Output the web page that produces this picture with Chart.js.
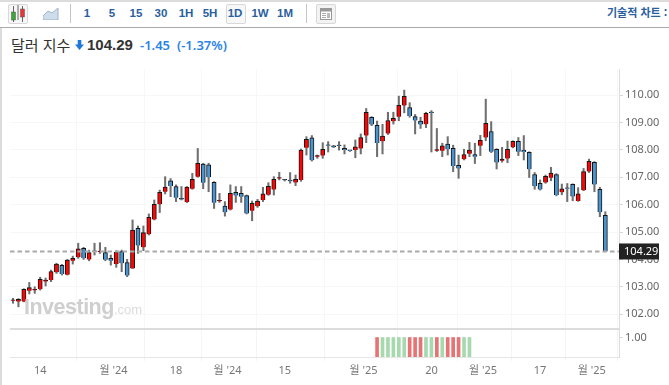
<!DOCTYPE html>
<html lang="ko">
<head>
<meta charset="utf-8">
<title>달러 지수</title>
<script src="https://cdn.jsdelivr.net/npm/chart.js@4"></script>
<style>
html,body{margin:0;padding:0;background:#fff;width:669px;height:385px;overflow:hidden;font-family:"Noto Sans","Noto Sans CJK KR",sans-serif}
#page{position:relative;width:669px;height:385px;overflow:hidden}
#page>*{position:absolute}
.tf{top:5px;height:17px;line-height:17px;width:24px;text-align:center;font-size:11.5px;font-weight:700;color:#2a5f9e;font-family:"Liberation Sans",sans-serif}
.box{top:4px;height:18px;border:1px solid #d8d8d8;border-radius:2px;background:#f7f7f7}
.sep{top:4px;height:19px;width:1px;background:#c4c4c4}
canvas{display:block}
</style>
</head>
<body>
<div id="page">
  <div style="left:0;top:0;width:669px;height:1.5px;background:#dcdcdc"></div>
  <div style="left:0;top:27px;width:669px;height:1px;background:#aaa"></div>
  <div style="left:0;top:28px;width:1.5px;height:357px;background:#dcdcdc"></div>
  <div class="box" style="left:8px;width:18px"></div>
  <svg style="left:10px;top:5px" width="16" height="18" viewBox="0 0 16 18">
    <path d="M3.5 1v16M8 0v15M12.5 1v16" stroke="#666" stroke-width="1"/>
    <rect x="1.5" y="7" width="4" height="8" fill="#3fa535" stroke="#555" stroke-width=".5"/>
    <rect x="10.5" y="4" width="4" height="8" fill="#e33" stroke="#555" stroke-width=".5"/>
  </svg>
  <svg style="left:43px;top:7px" width="16" height="13" viewBox="0 0 16 13">
    <path d="M0 9L5 4L9 6L15 1V13H0Z" fill="#cfdcec" stroke="#9db4d0" stroke-width="1"/>
  </svg>
  <div class="sep" style="left:70px"></div>
  <div class="box" style="left:226px;width:18px"></div>
  <div class="sep" style="left:306px"></div>
  <div class="box" style="left:316px;width:18px;background:#f3f3f3"></div>
  <svg style="left:320px;top:8px" width="12" height="12" viewBox="0 0 12 12">
    <rect x=".5" y=".5" width="11" height="11" fill="#fff" stroke="#999"/>
    <rect x="1" y="1" width="10" height="2.5" fill="#999"/>
    <path d="M2 5.5h4M2 7.5h4M2 9.5h4" stroke="#aaa"/>
    <rect x="7" y="5" width="3" height="5" fill="#bbb"/>
  </svg>
  <span class="tf" style="left:75px">1</span>
  <span class="tf" style="left:100px">5</span>
  <span class="tf" style="left:124px">15</span>
  <span class="tf" style="left:149px">30</span>
  <span class="tf" style="left:174px">1H</span>
  <span class="tf" style="left:198px">5H</span>
  <span class="tf" style="left:223px">1D</span>
  <span class="tf" style="left:248px">1W</span>
  <span class="tf" style="left:273px">1M</span>
  <span style="left:607px;top:4px;font-size:11px;line-height:17px;font-weight:700;color:#2a5f9e;white-space:nowrap;font-family:'Noto Sans CJK KR'">기술적 차트 :</span>
  <span style="left:11px;top:35px;font-size:15px;line-height:20px;color:#333;white-space:nowrap;font-family:'Noto Sans CJK KR'">달러 지수</span>
  <svg style="left:75px;top:40px" width="9" height="10" viewBox="0 0 10 11"><path d="M3 0h4v5h3L5 11L0 5h3z" fill="#1f78d8"/></svg>
  <span style="left:87px;top:35px;font-size:15px;line-height:20px;font-weight:700;color:#333;font-family:'Liberation Sans'">104.29</span>
  <span style="left:140px;top:36px;font-size:13px;line-height:19px;font-weight:600;color:#2a83e6;font-family:'Noto Sans'">-1.45</span>
  <span style="left:177px;top:36px;font-size:13px;line-height:19px;font-weight:600;color:#2a83e6;font-family:'Noto Sans'">(-1.37%)</span>

  <canvas id="main" width="669" height="260" style="left:0;top:69px;width:669px;height:260px"></canvas>
  <canvas id="vol" width="669" height="56" style="left:0;top:329px;width:669px;height:56px"></canvas>
  <div style="left:24px;top:295px;white-space:nowrap;color:#cfcfcf;pointer-events:none;font-family:'Liberation Sans'"><span style="font-size:21.5px;font-weight:700;letter-spacing:-.5px">Investing</span><span style="font-size:13px;color:#dcdcdc">.com</span></div>
</div>
<script>
const opens = [102.49,102.46,102.46,102.86,102.87,102.91,103.19,103.25,103.53,103.78,103.44,103.95,104.08,104.40,104.00,104.28,104.27,104.25,104.04,103.83,104.29,103.88,103.67,105.13,104.44,104.92,105.46,106.01,106.47,106.87,106.66,106.22,106.10,106.58,107.02,107.48,107.45,106.81,106.12,105.95,105.82,106.45,106.41,106.33,105.78,105.94,106.17,106.36,106.55,106.95,106.91,106.90,106.81,106.90,108.08,108.44,107.75,107.79,108.18,108.15,108.15,108.05,107.97,107.99,108.05,108.52,109.19,108.89,108.31,108.60,109.04,109.21,109.62,109.54,109.21,109.05,108.93,109.37,107.97,107.97,108.21,108.05,107.43,107.66,107.86,107.83,108.15,108.45,108.67,108.02,107.60,107.68,108.09,108.31,107.99,107.91,107.10,106.78,106.81,106.98,107.10,106.45,106.61,106.74,106.13,106.52,107.21,107.54,106.56,105.61];
const highs = [102.58,102.57,102.93,103.16,103.00,103.35,103.32,103.61,103.86,103.82,104.00,104.12,104.59,104.44,104.34,104.59,104.61,104.44,104.16,104.32,104.34,104.00,105.44,105.22,105.22,105.66,106.17,106.53,107.02,106.95,106.72,106.66,106.66,107.14,108.05,107.51,107.51,106.84,106.41,106.11,106.72,106.66,106.66,106.35,106.13,106.19,106.63,106.80,107.02,107.18,106.92,107.17,107.08,108.03,108.48,108.52,107.81,108.26,108.30,108.16,108.30,108.18,107.98,108.36,108.58,109.51,109.21,109.05,108.93,109.37,109.37,109.96,110.18,109.72,109.29,109.19,109.37,109.43,108.78,108.24,108.48,108.17,107.81,108.02,108.27,108.24,108.53,109.85,109.03,108.04,108.09,108.32,108.33,108.45,108.52,107.93,107.17,106.90,107.08,107.36,107.13,106.75,106.77,106.76,106.62,107.32,107.66,107.57,106.63,105.74];
const lows = [102.40,102.27,102.45,102.74,102.76,102.88,103.03,103.19,103.49,103.43,103.43,103.83,104.04,104.00,103.95,104.16,104.22,103.95,103.79,103.71,103.55,103.37,103.67,104.22,104.32,104.89,105.44,105.71,106.39,106.29,106.11,106.17,106.07,106.56,107.00,106.58,106.47,105.86,106.08,105.58,105.80,106.08,106.08,105.66,105.41,105.90,106.11,106.34,106.35,106.90,106.86,106.78,106.69,106.85,107.81,107.59,107.69,107.69,107.92,108.08,107.99,107.85,107.94,107.71,107.85,108.26,108.88,107.75,107.85,108.56,108.94,109.06,109.35,109.19,108.58,108.78,108.81,107.92,107.94,107.75,107.81,107.20,106.96,107.63,107.75,107.50,107.79,108.33,107.90,107.30,107.55,107.53,108.07,107.79,107.63,106.99,106.56,106.53,106.78,106.87,106.32,106.36,106.11,106.14,106.12,106.51,107.17,106.47,105.56,104.28];
const closes = [102.52,102.54,102.91,102.97,102.88,103.27,103.25,103.56,103.83,103.47,103.98,104.04,104.39,104.04,104.25,104.29,104.28,103.99,103.95,104.27,103.86,103.41,105.07,104.51,104.98,105.54,106.01,106.45,106.64,106.68,106.25,106.19,106.64,106.92,107.51,106.80,107.00,106.07,106.13,105.72,106.41,106.33,106.29,105.68,106.05,106.13,106.39,106.67,106.92,106.96,106.89,106.85,106.92,107.99,108.38,107.62,107.76,108.02,108.15,108.09,108.14,107.99,107.96,108.11,108.45,109.37,108.92,108.25,108.50,109.07,109.15,109.62,109.95,109.23,109.07,108.92,109.33,109.34,108.00,108.15,108.02,107.41,107.32,107.83,107.99,107.75,108.35,108.97,107.93,107.54,107.66,108.02,108.31,107.93,107.93,107.29,106.67,106.55,107.03,107.15,106.35,106.58,106.58,106.30,106.39,107.21,107.58,106.73,105.72,104.29];
const priceTicks = [102,103,104,105,106,107,108,109,110];
const lastPrice = 104.29;
const dateTickPositions = [5,18.5,30,39.5,50,64.5,77,86.5,97,106.5];
const dateTickLabels = ["14","월 '24","18","월 '24","15","월 '25","20","월 '25","17","월 '25"];
const volumePositions = [67,68,69,70,71,72,73,74,75,76,77,78,79,80,81,82,83,84];
const volumeValues = [1,1,1,1,1,1,1,1,1,1,1,1,1,1,1,1,1,1];
const volumeSides = ["r","g","g","g","g","g","r","r","r","g","g","r","g","r","r","r","g","g"];
const volumeTicks = [1];

const RED='#fb0505', BLUE='#4a94d0', EDGE='#151515', WICK='rgba(70,70,70,.78)';
const X_MIN=-0.552, X_MAX=111.52;
const FONT='"Noto Sans","Noto Sans CJK KR",sans-serif';
const idx = opens.map((_,i)=>i);
const noPad = s => { s.paddingTop=0; s.paddingBottom=0; s.paddingLeft=0; s.paddingRight=0; };

const lastPriceLine = {
  id:'lastPriceLine',
  afterDatasetsDraw(c){
    const y=c.scales.y.getPixelForValue(lastPrice), a=c.chartArea, g=c.ctx;
    g.save();
    g.strokeStyle='#aaaaaa'; g.lineWidth=2; g.setLineDash([4.5,3]);
    g.beginPath(); g.moveTo(a.left,y); g.lineTo(a.right,y); g.stroke();
    g.setLineDash([]);
    g.fillStyle='#222'; g.fillRect(a.right,y-8,40,16);
    g.fillStyle='#fff'; g.font='11px '+FONT; g.textBaseline='middle'; g.textAlign='left';
    g.fillText(lastPrice.toFixed(2),a.right+5,y+.5);
    g.restore();
  }
};

new Chart(document.getElementById('main'),{
  type:'bar',
  plugins:[lastPriceLine],
  data:{datasets:[
    {data:idx.map(i=>({x:i,y:[lows[i],highs[i]]})),grouped:false,order:2,barThickness:1.4,backgroundColor:WICK,borderWidth:0},
    {data:idx.map(i=>({x:i,y:[opens[i],closes[i]]})),grouped:false,order:1,barThickness:4.2,minBarLength:1,
     backgroundColor:idx.map(i=>closes[i]>=opens[i]?RED:BLUE),borderColor:EDGE,borderWidth:1}
  ]},
  options:{
    responsive:false,animation:false,
    layout:{padding:{left:10,right:0,top:0,bottom:0}},
    plugins:{legend:{display:false},tooltip:{enabled:false}},
    scales:{
      x:{type:'linear',offset:false,min:X_MIN,max:X_MAX,
        afterBuildTicks:s=>{s.ticks=dateTickPositions.map(v=>({value:v}))},
        afterFit:s=>{s.height=0;noPad(s)},
        ticks:{display:false},
        grid:{color:'#f7f7f7',drawTicks:false},border:{display:false}},
      y:{position:'right',min:101.46,max:110.95,
        afterBuildTicks:s=>{s.ticks=priceTicks.map(v=>({value:v}))},
        afterFit:s=>{s.width=50;noPad(s)},
        ticks:{font:{size:11,family:FONT},color:'#666',padding:2,callback:v=>Number(v).toFixed(2)},
        grid:{color:'#f7f7f7',tickColor:'#d8d8d8',tickLength:4},
        border:{color:'#dddddd'}}
    }
  }
});

new Chart(document.getElementById('vol'),{
  type:'bar',
  data:{datasets:[{data:volumePositions.map((p,i)=>({x:p,y:volumeValues[i]})),barThickness:3,
    backgroundColor:volumeSides.map(s=>s==='r'?'#e77474':'#a6d9ae'),borderWidth:0}]},
  options:{
    responsive:false,animation:false,
    layout:{padding:{left:10,right:0,top:0,bottom:0}},
    plugins:{legend:{display:false},tooltip:{enabled:false}},
    scales:{
      x:{type:'linear',offset:false,min:X_MIN,max:X_MAX,
        afterBuildTicks:s=>{s.ticks=dateTickPositions.map(v=>({value:v}))},
        afterFit:s=>{s.height=28;noPad(s)},
        ticks:{autoSkip:false,maxRotation:0,font:{size:11,family:FONT},color:'#777',padding:3,
          callback:(v,i)=>dateTickLabels[i]},
        grid:{color:'#f4f4f6',tickColor:'#f4f4f6',tickLength:4},
        border:{color:'#e6e6e6'}},
      y:{position:'right',min:0,max:1.436,
        afterBuildTicks:s=>{s.ticks=volumeTicks.map(v=>({value:v}))},
        afterFit:s=>{s.width=50;noPad(s)},
        ticks:{font:{size:11,family:FONT},color:'#666',padding:2,callback:v=>Number(v).toFixed(2)},
        grid:{display:true,drawOnChartArea:false,tickColor:'#d8d8d8',tickLength:4},
        border:{color:'#dddddd'}}
    }
  }
});
</script>
<div style="position:absolute;left:10px;top:328px;width:609px;height:2px;background:#dcdcdc"></div>
</body>
</html>
